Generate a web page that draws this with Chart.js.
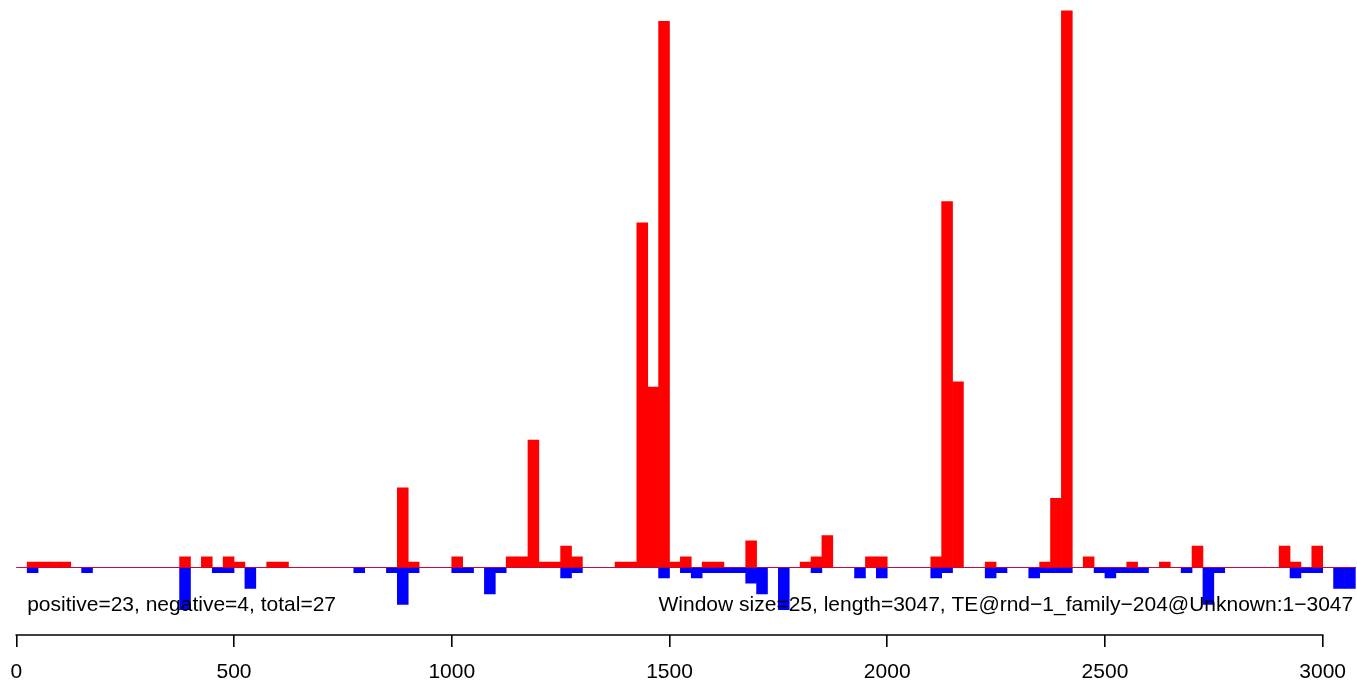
<!DOCTYPE html>
<html>
<head>
<meta charset="utf-8">
<script src="https://cdn.jsdelivr.net/npm/chart.js@4/dist/chart.umd.min.js"></script>
<style>
  html, body { margin: 0; padding: 0; background: #ffffff; }
  canvas { display: block; }
</style>
</head>
<body>
<canvas id="c" width="1357" height="682"></canvas>
<script>
// ---- data (one value per 25-bp window, window index 0..122) ----
const windowSize = 25;
const seqLength = 3047;
const positiveCounts = [
  0, 1, 1, 1, 1, 0, 0, 0, 0, 0,
  0, 0, 0, 0, 0, 2, 0, 2, 0, 2,
  1, 0, 0, 1, 1, 0, 0, 0, 0, 0,
  0, 0, 0, 0, 0, 15, 1, 0, 0, 0,
  2, 0, 0, 0, 0, 2, 2, 24, 1, 1,
  4, 2, 0, 0, 0, 1, 1, 65, 34, 103,
  1, 2, 0, 1, 1, 0, 0, 5, 0, 0,
  0, 0, 1, 2, 6, 0, 0, 0, 2, 2,
  0, 0, 0, 0, 2, 69, 35, 0, 0, 1,
  0, 0, 0, 0, 1, 13, 105, 0, 2, 0,
  0, 0, 1, 0, 0, 1, 0, 0, 4, 0,
  0, 0, 0, 0, 0, 0, 4, 1, 0, 4,
  0, 0, 0
];
const negativeCounts = [
  0, -1, 0, 0, 0, 0, -1, 0, 0, 0,
  0, 0, 0, 0, 0, -8, 0, 0, -1, -1,
  0, -4, 0, 0, 0, 0, 0, 0, 0, 0,
  0, -1, 0, 0, -1, -7, -1, 0, 0, 0,
  -1, -1, 0, -5, -1, 0, 0, 0, 0, 0,
  -2, -1, 0, 0, 0, 0, 0, 0, 0, -2,
  0, -1, -2, -1, -1, -1, -1, -3, -5, 0,
  -8, 0, 0, -1, 0, 0, 0, -2, 0, -2,
  0, 0, 0, 0, -2, -1, 0, 0, 0, -2,
  -1, 0, 0, -2, -1, -1, -1, 0, 0, -1,
  -2, -1, -1, -1, 0, 0, 0, -1, 0, -7,
  -1, 0, 0, 0, 0, 0, 0, -2, -1, -1,
  0, -4, -4
];
const xTickValues = [0, 500, 1000, 1500, 2000, 2500, 3000];
const leftNote = 'positive=23, negative=4, total=27';
const rightNote = 'Window size=25, length=3047, TE@rnd\u22121_family\u2212204@Unknown:1\u22123047';

// ---- build library data from the arrays ----
const redPoints = positiveCounts.map((v, i) => ({ x: i * windowSize + windowSize / 2, y: v }));
const bluePoints = negativeCounts.map((v, i) => ({ x: i * windowSize + windowSize / 2, y: v }));
const lastEdge = positiveCounts.length * windowSize;

const FONT = "'Liberation Sans', Arial, Helvetica, sans-serif";

const decorations = {
  id: 'decorations',
  beforeDatasetsDraw(chart) {
    const { ctx, scales } = chart;
    const xs = scales.x, ys = scales.y;
    const y0 = Math.round(ys.getPixelForValue(0)) + 0.5;
    ctx.save();
    ctx.strokeStyle = '#9a9a9a';
    ctx.lineWidth = 1;
    ctx.beginPath();
    ctx.moveTo(xs.getPixelForValue(windowSize), y0);
    ctx.lineTo(xs.getPixelForValue(lastEdge), y0);
    ctx.stroke();
    ctx.restore();
  },
  afterDraw(chart) {
    const { ctx, scales, chartArea } = chart;
    const xs = scales.x;
    ctx.save();
    // axis line from first to last tick
    ctx.strokeStyle = '#000';
    ctx.lineWidth = 1.6;
    ctx.beginPath();
    ctx.moveTo(xs.getPixelForValue(xTickValues[0]) - 0.8, chartArea.bottom);
    ctx.lineTo(xs.getPixelForValue(xTickValues[xTickValues.length - 1]) + 0.8, chartArea.bottom);
    ctx.stroke();
    // notes
    ctx.fillStyle = '#000';
    ctx.font = '21px ' + FONT;
    ctx.textBaseline = 'alphabetic';
    const ty = chartArea.bottom - 24.5;
    ctx.textAlign = 'left';
    ctx.fillText(leftNote, xs.getPixelForValue(windowSize), ty);
    ctx.textAlign = 'right';
    ctx.fillText(rightNote, xs.getPixelForValue(lastEdge - 5), ty);
    ctx.restore();
  }
};

new Chart(document.getElementById('c'), {
  type: 'bar',
  data: {
    datasets: [
      { label: 'positive', data: redPoints, backgroundColor: '#ff0000', borderWidth: 0,
        grouped: false, barPercentage: 1, categoryPercentage: 1 },
      { label: 'negative', data: bluePoints, backgroundColor: '#0000ff', borderWidth: 0,
        grouped: false, barPercentage: 1, categoryPercentage: 1 }
    ]
  },
  options: {
    responsive: false,
    animation: false,
    devicePixelRatio: 1,
    layout: { padding: { left: 16.3, right: 0, top: 0, bottom: 0 } },
    plugins: { legend: { display: false }, tooltip: { enabled: false } },
    scales: {
      x: {
        type: 'linear',
        min: 0,
        max: 3078.8,
        offset: false,
        afterBuildTicks(scale) { scale.ticks = xTickValues.map(v => ({ value: v })); },
        afterFit(scale) { scale.height = 47; scale.paddingLeft = 0; scale.paddingRight = 0; },
        border: { display: false },
        grid: { display: true, offset: false, drawOnChartArea: false, drawTicks: true, tickLength: 12,
                color: '#000', lineWidth: 1.6 },
        ticks: { color: '#000', font: { family: FONT, size: 21, lineHeight: 1 },
                 padding: 15, maxRotation: 0, autoSkip: false,
                 callback: v => String(v) }
      },
      y: {
        display: false,
        min: -12.77,
        max: 107.04
      }
    }
  },
  plugins: [decorations]
});
</script>
</body>
</html>
